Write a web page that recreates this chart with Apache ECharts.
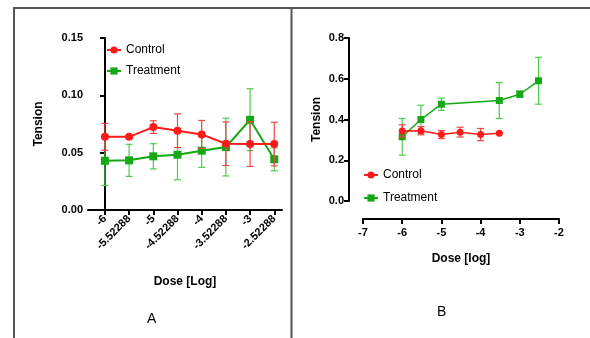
<!DOCTYPE html>
<html>
<head>
<meta charset="utf-8">
<script src="https://cdn.jsdelivr.net/npm/echarts@6/dist/echarts.min.js"></script>
<style>html,body{margin:0;padding:0;background:#fff}#c{width:590px;height:338px}</style>
</head>
<body>
<div id="c"></div>
<script>
// Panel A (categorical doses)
const doseLabelsA = ['-6', '-5.52288', '-5', '-4.52288', '-4', '-3.52288', '-3', '-2.52288'];
const controlA = [0.0638, 0.0638, 0.0723, 0.0691, 0.0659, 0.0578, 0.0575, 0.0575];
const controlAErr = [0.0117, 0.0010, 0.0055, 0.0147, 0.0122, 0.0190, 0.0195, 0.0190];
const treatA = [0.0429, 0.0433, 0.0468, 0.0482, 0.0517, 0.0549, 0.0787, 0.0442];
const treatAErr = [0.0215, 0.0140, 0.0110, 0.0218, 0.0145, 0.0252, 0.0270, 0.0100];
const yTicksA = [0, 0.05, 0.10, 0.15];

// Panel B (numeric log dose)
const controlBx = [-6, -5.52288, -5, -4.52288, -4, -3.52288];
const controlB = [0.344, 0.345, 0.326, 0.338, 0.326, 0.333];
const controlBErr = [0.030, 0.020, 0.020, 0.024, 0.030, 0.004];
const treatBx = [-6, -5.52288, -5, -3.52288, -3, -2.52288];
const treatB = [0.315, 0.400, 0.475, 0.493, 0.524, 0.590];
const treatBErr = [0.090, 0.070, 0.030, 0.088, 0.016, 0.115];
const yTicksB = [0, 0.2, 0.4, 0.6, 0.8];
const xTicksB = [-7, -6, -5, -4, -3, -2];

const RED = '#ff1a1a', RED_ERR = '#f04545';
const GREEN = '#14a814', GREEN_ERR = '#4ccc4c';
const FONT = '"Liberation Sans", Arial, sans-serif';

function errSeries(xi, yi, xs, ys, es, color, z) {
  return {
    type: 'custom', xAxisIndex: xi, yAxisIndex: yi, z: z, silent: true,
    data: xs.map((x, i) => [x, ys[i] - es[i], ys[i] + es[i]]),
    renderItem: function (params, api) {
      const lo = api.coord([api.value(0), api.value(1)]);
      const hi = api.coord([api.value(0), api.value(2)]);
      const w = 3.5;
      const st = { stroke: color, lineWidth: 1.2 };
      return { type: 'group', children: [
        { type: 'line', shape: { x1: lo[0], y1: lo[1], x2: hi[0], y2: hi[1] }, style: st },
        { type: 'line', shape: { x1: lo[0] - w, y1: lo[1], x2: lo[0] + w, y2: lo[1] }, style: st },
        { type: 'line', shape: { x1: hi[0] - w, y1: hi[1], x2: hi[0] + w, y2: hi[1] }, style: st }
      ]};
    }
  };
}

const chart = echarts.init(document.getElementById('c'), null, { renderer: 'canvas' });
const axisLineStyle = { show: true, lineStyle: { color: '#000', width: 2 } };
const tickStyle = { show: true, length: 5, lineStyle: { color: '#000', width: 2 } };
const labelStyle = { color: '#000', fontWeight: 'bold', fontSize: 11, fontFamily: FONT };
const nameStyle = { color: '#000', fontWeight: 'bold', fontSize: 12, fontFamily: FONT };

const idxA = doseLabelsA.map((_, i) => i);

chart.setOption({
  animation: false,
  backgroundColor: '#fff',
  textStyle: { fontFamily: FONT },
  grid: [
    { left: 88, top: 38, width: 194, height: 172 },
    { left: 363, top: 38, width: 196, height: 163 }
  ],
  xAxis: [
    {
      type: 'value', gridIndex: 0, min: -0.7, max: 7.32,
      axisLine: axisLineStyle, splitLine: { show: false },
      axisTick: Object.assign({}, tickStyle, { customValues: idxA }),
      axisLabel: Object.assign({}, labelStyle, {
        rotate: 45, margin: 7, customValues: idxA,
        formatter: v => doseLabelsA[Math.round(v)]
      }),
      name: 'Dose [Log]', nameLocation: 'middle', nameGap: 66, nameTextStyle: nameStyle
    },
    {
      type: 'value', gridIndex: 1, min: -7, max: -2, interval: 1, offset: 18,
      axisLine: Object.assign({ onZero: false }, axisLineStyle), splitLine: { show: false },
      axisTick: tickStyle,
      axisLabel: Object.assign({}, labelStyle, { margin: 8, customValues: xTicksB }),
      name: 'Dose [log]', nameLocation: 'middle', nameGap: 34, nameTextStyle: nameStyle
    }
  ],
  yAxis: [
    {
      type: 'value', gridIndex: 0, min: 0, max: 0.15, interval: 0.05,
      axisLine: axisLineStyle, splitLine: { show: false }, axisTick: tickStyle,
      axisLabel: Object.assign({}, labelStyle, { margin: 5, customValues: yTicksA, formatter: v => v.toFixed(2) }),
      name: 'Tension', nameLocation: 'middle', nameGap: 43, nameTextStyle: nameStyle
    },
    {
      type: 'value', gridIndex: 1, min: 0, max: 0.8, interval: 0.2, offset: 14,
      axisLine: Object.assign({ onZero: false }, axisLineStyle), splitLine: { show: false }, axisTick: tickStyle,
      axisLabel: Object.assign({}, labelStyle, { margin: 5, customValues: yTicksB, formatter: v => v.toFixed(1) }),
      name: 'Tension', nameLocation: 'middle', nameGap: 26, nameTextStyle: nameStyle
    }
  ],
  legend: [
    {
      left: 101, top: 39, orient: 'vertical', itemWidth: 14, itemHeight: 9, itemGap: 9,
      textStyle: { fontSize: 12, color: '#000', fontFamily: FONT },
      data: [{ name: 'Control' }, { name: 'Treatment' }]
    },
    {
      left: 358, top: 164, orient: 'vertical', itemWidth: 14, itemHeight: 9, itemGap: 11,
      textStyle: { fontSize: 12, color: '#000', fontFamily: FONT },
      data: [{ name: 'Control' }, { name: 'Treatment' }]
    }
  ],
  series: [
    errSeries(0, 0, idxA, treatA, treatAErr, GREEN_ERR, 1),
    errSeries(0, 0, idxA, controlA, controlAErr, RED_ERR, 3),
    {
      name: 'Treatment', type: 'line', xAxisIndex: 0, yAxisIndex: 0, z: 2,
      data: idxA.map((x, i) => [x, treatA[i]]),
      symbol: 'rect', symbolSize: 8, lineStyle: { color: GREEN, width: 2 },
      itemStyle: { color: GREEN }
    },
    {
      name: 'Control', type: 'line', xAxisIndex: 0, yAxisIndex: 0, z: 4,
      data: idxA.map((x, i) => [x, controlA[i]]),
      symbol: 'circle', symbolSize: 8, lineStyle: { color: RED, width: 2 },
      itemStyle: { color: RED }
    },
    errSeries(1, 1, treatBx, treatB, treatBErr, GREEN_ERR, 1),
    errSeries(1, 1, controlBx, controlB, controlBErr, RED_ERR, 3),
    {
      name: 'Treatment', type: 'line', xAxisIndex: 1, yAxisIndex: 1, z: 2,
      data: treatBx.map((x, i) => [x, treatB[i]]),
      symbol: 'rect', symbolSize: 7, lineStyle: { color: GREEN, width: 1.5 },
      itemStyle: { color: GREEN }
    },
    {
      name: 'Control', type: 'line', xAxisIndex: 1, yAxisIndex: 1, z: 4,
      data: controlBx.map((x, i) => [x, controlB[i]]),
      symbol: 'circle', symbolSize: 7, lineStyle: { color: RED, width: 1.5 },
      itemStyle: { color: RED }
    }
  ],
  graphic: [
    { type: 'line', shape: { x1: 14, y1: 8, x2: 590, y2: 8 }, style: { stroke: '#555', lineWidth: 2 } },
    { type: 'line', shape: { x1: 14, y1: 7, x2: 14, y2: 338 }, style: { stroke: '#555', lineWidth: 2 } },
    { type: 'line', shape: { x1: 291.5, y1: 7, x2: 291.5, y2: 338 }, style: { stroke: '#555', lineWidth: 2 } },
    { type: 'text', left: 147, top: 312, style: { text: 'A', fontSize: 14, fill: '#000', fontFamily: FONT } },
    { type: 'text', left: 437, top: 305, style: { text: 'B', fontSize: 14, fill: '#000', fontFamily: FONT } }
  ]
});
</script>
</body>
</html>
